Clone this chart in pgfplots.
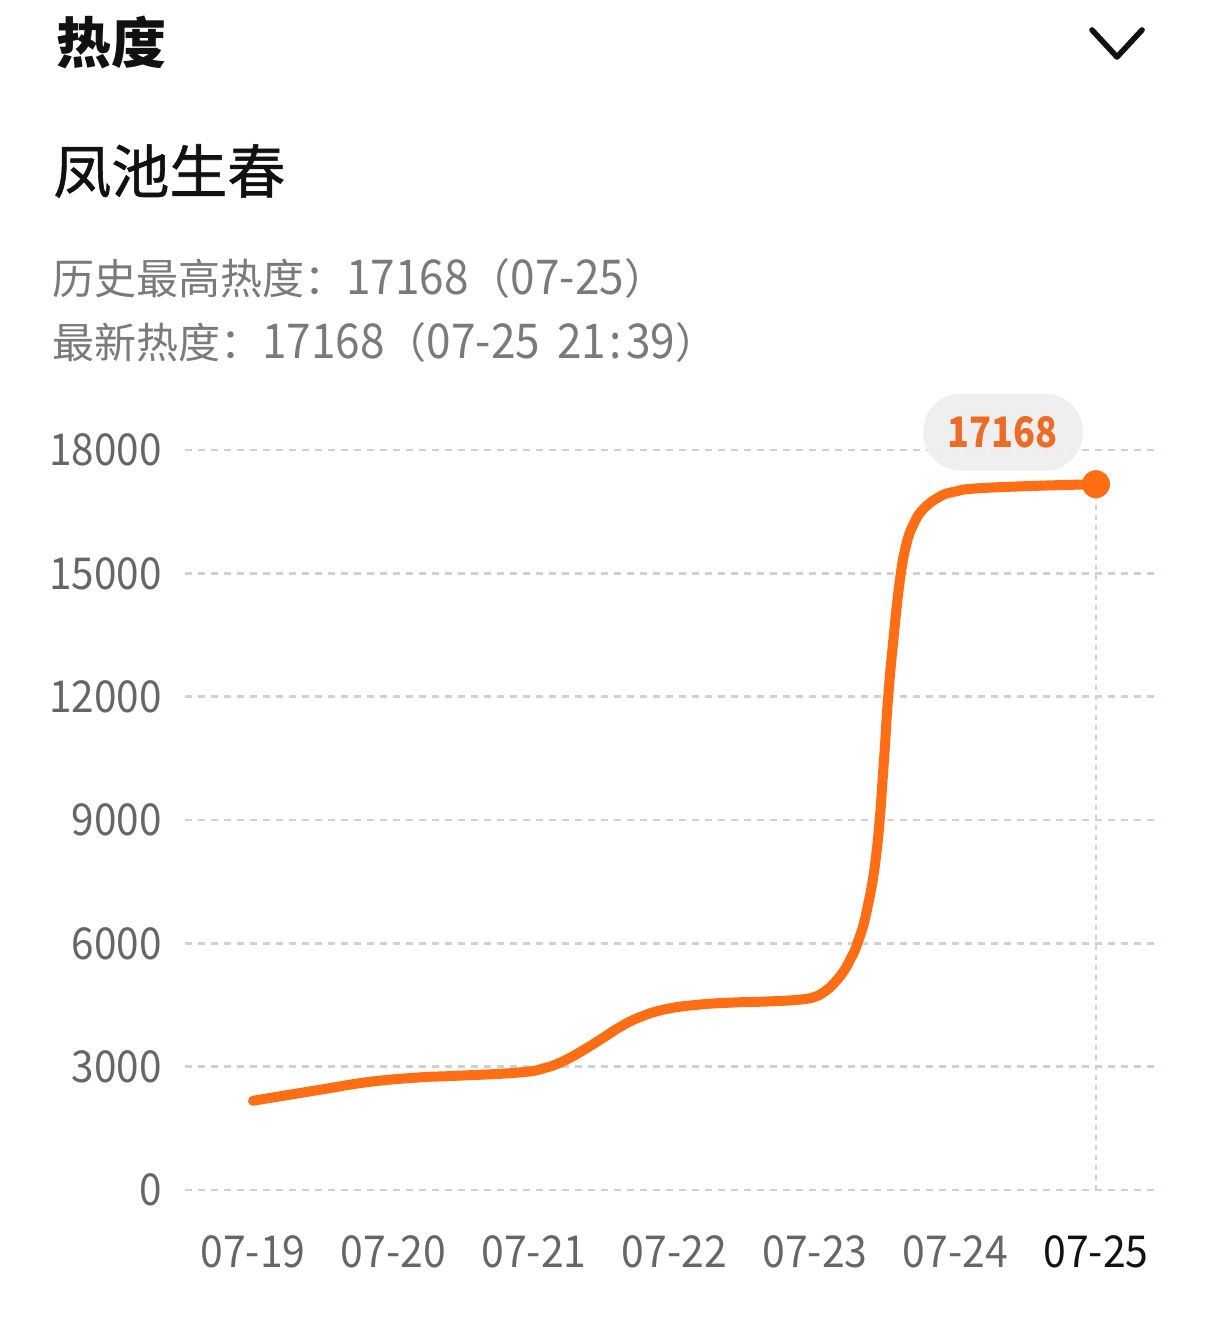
\documentclass[border=0pt]{standalone}
\usepackage{pgfplots}
\pgfplotsset{compat=1.18}
\usepackage{fontspec}
\setmainfont{Noto Sans CJK SC}
\newfontfamily\cjkmed[FakeBold=1]{Noto Sans CJK SC}
\newfontfamily\numfont[FakeStretch=0.92]{Noto Sans CJK SC}
\newfontfamily\xnumfont[FakeStretch=0.93]{Noto Sans CJK SC}
\newfontfamily\ynumfont[FakeStretch=0.92]{Noto Sans CJK SC}
\newfontfamily\pillfont[FakeStretch=0.86]{Noto Sans CJK SC}
\definecolor{linec}{RGB}{255,110,20}
\definecolor{pilltext}{RGB}{236,108,38}
\definecolor{pillfill}{RGB}{238,238,238}
\definecolor{gridc}{RGB}{208,208,208}
\definecolor{tickc}{RGB}{102,102,102}
\definecolor{infoc}{RGB}{122,122,122}
\definecolor{titlec}{RGB}{17,17,17}
\newcommand{\cj}{\normalfont\fontsize{21pt}{21pt}\selectfont}
\newcommand{\dg}{\numfont\fontsize{24pt}{24pt}\selectfont}
\pgfplotstableread{
x y
0 2170
0.48 2440
0.83 2630
1.19 2740
1.43 2775
1.90 2860
2.09 2980
2.23 3170
2.375 3450
2.50 3720
2.61 3960
2.75 4200
2.94 4400
3.18 4510
3.42 4560
3.66 4585
3.89 4630
4.0 4700
4.07 4830
4.13 5010
4.20 5300
4.25 5600
4.30 5980
4.37 6810
4.44 8270
4.49 10400
4.52 11950
4.56 13450
4.605 14850
4.65 15700
4.70 16180
4.77 16560
4.89 16870
5.0 16990
5.13 17060
5.5 17120
6 17168
}\heatdata
\begin{document}
\begin{tikzpicture}
\path[use as bounding box] (0pt,0pt) rectangle (608pt,660.5pt);
% header texts
\node[anchor=base west, inner sep=0pt, text=titlec, font=\bfseries\fontsize{27.5pt}{27.5pt}\selectfont] at (28pt,628.5pt) {热度};
\draw[titlec, line width=2.8pt, line cap=round, line join=round] (546pt,645.5pt) -- (558.5pt,632pt) -- (571pt,645.5pt);
\node[anchor=base west, inner sep=0pt, text=titlec, font=\cjkmed\fontsize{29pt}{29pt}\selectfont] at (26.5pt,564pt) {凤池生春};
\node[anchor=base west, inner sep=0pt, text=infoc] at (26pt,513pt) {\cj 历史最高热度：\dg 17168\cj （\dg 07-25\cj ）};
\node[anchor=base west, inner sep=0pt, text=infoc] at (26pt,481pt) {\cj 最新热度：\dg 17168\cj （\dg 07-25\hspace{0.35em}21\hspace{0.08em}:\hspace{0.08em}39\cj ）};
\begin{axis}[
  at={(92.5pt,65.5pt)}, anchor=south west,
  scale only axis, width=487.5pt, height=370pt,
  xmin=-0.484, xmax=6.456, ymin=0, ymax=18000,
  axis line style={draw=none},
  major tick length=0pt,
  scaled y ticks=false,
  xtick={0,1,2,3,4,5,6},
  xticklabels={07-19,07-20,07-21,07-22,07-23,07-24,\textcolor{titlec}{07-25}},
  ytick={0,3000,6000,9000,12000,15000,18000},
  yticklabels={0,3000,6000,9000,12000,15000,18000},
  ymajorgrids,
  grid style={gridc, line width=1.4pt, dash pattern=on 3.5pt off 3pt},
  xticklabel style={anchor=north, inner sep=0pt, yshift=-22.5pt, text=tickc, font=\xnumfont\fontsize{22pt}{22pt}\selectfont},
  yticklabel style={anchor=east, inner sep=0pt, xshift=-11.5pt, text=tickc, font=\ynumfont\fontsize{22pt}{22pt}\selectfont},
  clip=false,
]
\addplot[gridc, line width=0.8pt, dash pattern=on 2.5pt off 2.5pt] coordinates {(6,0) (6,17168)};
\addplot[linec, line width=5pt, smooth, tension=0.75, line cap=round, line join=round] table[x=x,y=y] {\heatdata};
\addplot[only marks, mark=*, mark size=6.8pt, mark options={fill=linec, draw=linec}, point meta=explicit symbolic,
  nodes near coords,
  nodes near coords style={anchor=center, xshift=-46.5pt, yshift=26pt, fill=pillfill, fill opacity=0.92, text opacity=1,
    text=pilltext, rounded corners=19pt, minimum width=80pt, minimum height=38.5pt, inner sep=0pt,
    font=\pillfont\bfseries\fontsize{21pt}{21pt}\selectfont}]
  coordinates {(6,17168) [17168]};
\end{axis}
\end{tikzpicture}
\end{document}
